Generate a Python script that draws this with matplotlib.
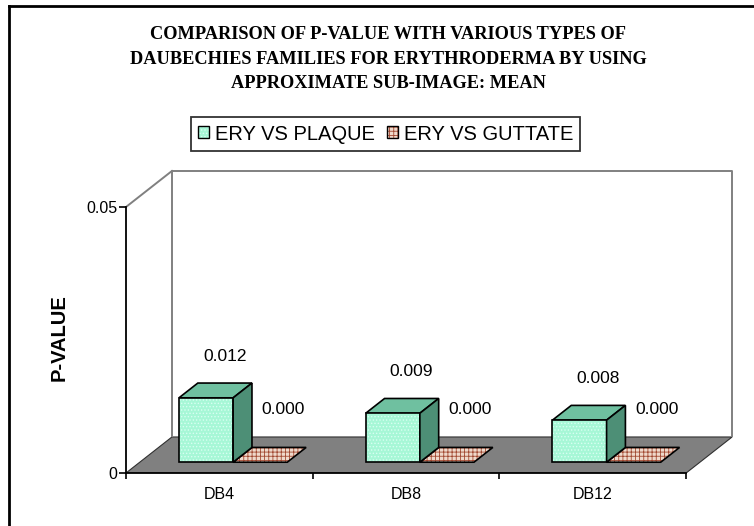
import matplotlib
matplotlib.use('Agg')
import matplotlib.pyplot as plt
from matplotlib.patches import Polygon, Rectangle
from matplotlib.lines import Line2D

# data
categories = ['DB4', 'DB8', 'DB12']
ery_vs_plaque = [0.0121, 0.0092, 0.0079]
ery_vs_guttate = [0.0, 0.0, 0.0]
series_names = ['ERY VS PLAQUE', 'ERY VS GUTTATE']
y_ticks = [0, 0.05]
y_tick_labels = ['0', '0.05']

title = ('COMPARISON OF P-VALUE WITH VARIOUS TYPES OF\n'
         'DAUBECHIES FAMILIES FOR ERYTHRODERMA BY USING\n'
         'APPROXIMATE SUB-IMAGE: MEAN')

# oblique "3d" depth, in data units
DX, DY = 0.246, 0.00677
f0, f1 = 0.30, 0.71          # bars sit in the middle of the floor depth
bar_w = 0.29

green_front = '#a6f7d6'
green_dots = '#d8fff2'
green_top = '#6fc0a0'
green_side = '#4d8f76'
red_top = '#efd9cb'
red_hatch = '#a24a33'
wall_col = '#808080'

plt.rcParams['hatch.linewidth'] = 0.6

fig = plt.figure(figsize=(7.54, 5.26), dpi=100)
ax = fig.add_axes([126 / 754, 53 / 526, 0.8073, 0.5816])
ax.set_xlim(0, 3.26)
ax.set_ylim(0, 0.0575)

# floor + walls
floor = Polygon([(0, 0), (3, 0), (3 + DX, DY), (DX, DY)], closed=True,
                facecolor=wall_col, edgecolor='#303030', lw=0.8, zorder=1)
ax.add_patch(floor)
ax.plot([DX, DX, 3 + DX, 3 + DX], [DY, 0.05 + DY, 0.05 + DY, DY],
        color=wall_col, lw=1.4, zorder=1, solid_capstyle='butt')
ax.plot([0, DX], [0.05, 0.05 + DY], color=wall_col, lw=1.4, zorder=1)


def draw_box(x0, v, face, top, side, hatch=None, hatch_col=None):
    sx, sy = f0 * DX, f0 * DY
    ddx, ddy = (f1 - f0) * DX, (f1 - f0) * DY
    x1 = x0 + bar_w
    top_poly = [(x0 + sx, v + sy), (x1 + sx, v + sy),
                (x1 + sx + ddx, v + sy + ddy), (x0 + sx + ddx, v + sy + ddy)]
    if hatch:
        ax.add_patch(Polygon(top_poly, closed=True, facecolor=top,
                             edgecolor=hatch_col, hatch=hatch, lw=0, zorder=3))
        ax.add_patch(Polygon(top_poly, closed=True, fill=False,
                             edgecolor='black', lw=1.2, zorder=4))
    else:
        ax.add_patch(Polygon(top_poly, closed=True, facecolor=top,
                             edgecolor='black', lw=1.2, zorder=4))
    if v > 0:
        # front face: dotted texture then black outline
        ax.bar(x0 + sx, v, width=bar_w, bottom=sy, align='edge',
               color=face, edgecolor=green_dots, lw=0, zorder=4,
               hatch='.....')
        ax.bar(x0 + sx, v, width=bar_w, bottom=sy, align='edge',
               fill=False, edgecolor='black', lw=1.2, zorder=4)
        side_poly = [(x1 + sx, sy), (x1 + sx, v + sy),
                     (x1 + sx + ddx, v + sy + ddy), (x1 + sx + ddx, sy + ddy)]
        ax.add_patch(Polygon(side_poly, closed=True, facecolor=side,
                             edgecolor='black', lw=1.2, zorder=4))


for i, cat in enumerate(categories):
    xg = i + 0.5 - bar_w
    xr = i + 0.5
    draw_box(xr, ery_vs_guttate[i], red_top, red_top, red_top,
             hatch='++++', hatch_col=red_hatch)
    draw_box(xg, ery_vs_plaque[i], green_front, green_top, green_side)

    # data labels
    ax.annotate('%.3f' % ery_vs_plaque[i],
                (xg + bar_w / 2 + f1 * DX, ery_vs_plaque[i] + f1 * DY),
                xytext=(0, 14), textcoords='offset points',
                ha='center', va='bottom', fontsize=12.5, family='Liberation Sans')
    ax.annotate('%.3f' % ery_vs_guttate[i],
                (xr + bar_w / 2 + f1 * DX, ery_vs_guttate[i] + f1 * DY),
                xytext=(3, 22), textcoords='offset points',
                ha='center', va='bottom', fontsize=12.5, family='Liberation Sans')

# axes
for s in ['top', 'right']:
    ax.spines[s].set_visible(False)
ax.spines['left'].set_bounds(0, 0.05)
ax.spines['bottom'].set_bounds(0, 3)
for s in ['left', 'bottom']:
    ax.spines[s].set_linewidth(1.3)
    ax.spines[s].set_zorder(5)

ax.set_yticks(y_ticks)
ax.set_yticklabels(y_tick_labels, fontsize=11.5, family='Liberation Sans')
ax.tick_params(axis='y', length=5, width=1.2, pad=1)

ax.set_xticks([0, 1, 2, 3])
ax.set_xticklabels([])
ax.set_xticks([0.5, 1.5, 2.5], minor=True)
ax.set_xticklabels(categories, minor=True, fontsize=11.5, family='Liberation Sans')
ax.tick_params(axis='x', which='major', length=4, width=1.2)
ax.tick_params(axis='x', which='minor', length=0, pad=10)

fig.text(59 / 754, 1 - 338 / 526, 'P-VALUE', rotation=90, ha='center',
         va='center', fontsize=14.5, fontweight='bold', family='Liberation Sans')

fig.text(388 / 754, 1 - 59 / 526, title, ha='center', va='center',
         fontsize=13.2, fontweight='bold', family='Liberation Serif',
         linespacing=1.6)

# legend
green_handle = (
    Rectangle((0, 0), 1, 1, facecolor=green_front, edgecolor=green_dots,
              hatch='.....', lw=0),
    Rectangle((0, 0), 1, 1, fill=False, edgecolor='black', lw=1),
)
red_handle = (
    Rectangle((0, 0), 1, 1, facecolor=red_top, edgecolor=red_hatch,
              hatch='++++', lw=0),
    Rectangle((0, 0), 1, 1, fill=False, edgecolor='black', lw=1),
)
leg = fig.legend([green_handle, red_handle], series_names, loc='center',
                 bbox_to_anchor=(385.5 / 754, 1 - 134 / 526), ncol=2,
                 prop={'family': 'Liberation Sans', 'size': 14.5},
                 frameon=True, fancybox=False, edgecolor='black',
                 handlelength=0.55, handleheight=0.55, handletextpad=0.3,
                 columnspacing=0.6, borderpad=0.35, borderaxespad=0)
leg.get_frame().set_linewidth(1.3)

# outer border (top and left visible)
fig.add_artist(Line2D([8.5 / 754, 1], [1 - 5.5 / 526, 1 - 5.5 / 526],
                      transform=fig.transFigure, color='black', lw=2))
fig.add_artist(Line2D([8.5 / 754, 8.5 / 754], [0, 1 - 5.5 / 526],
                      transform=fig.transFigure, color='black', lw=2))

fig.savefig('out.png', dpi=100)
